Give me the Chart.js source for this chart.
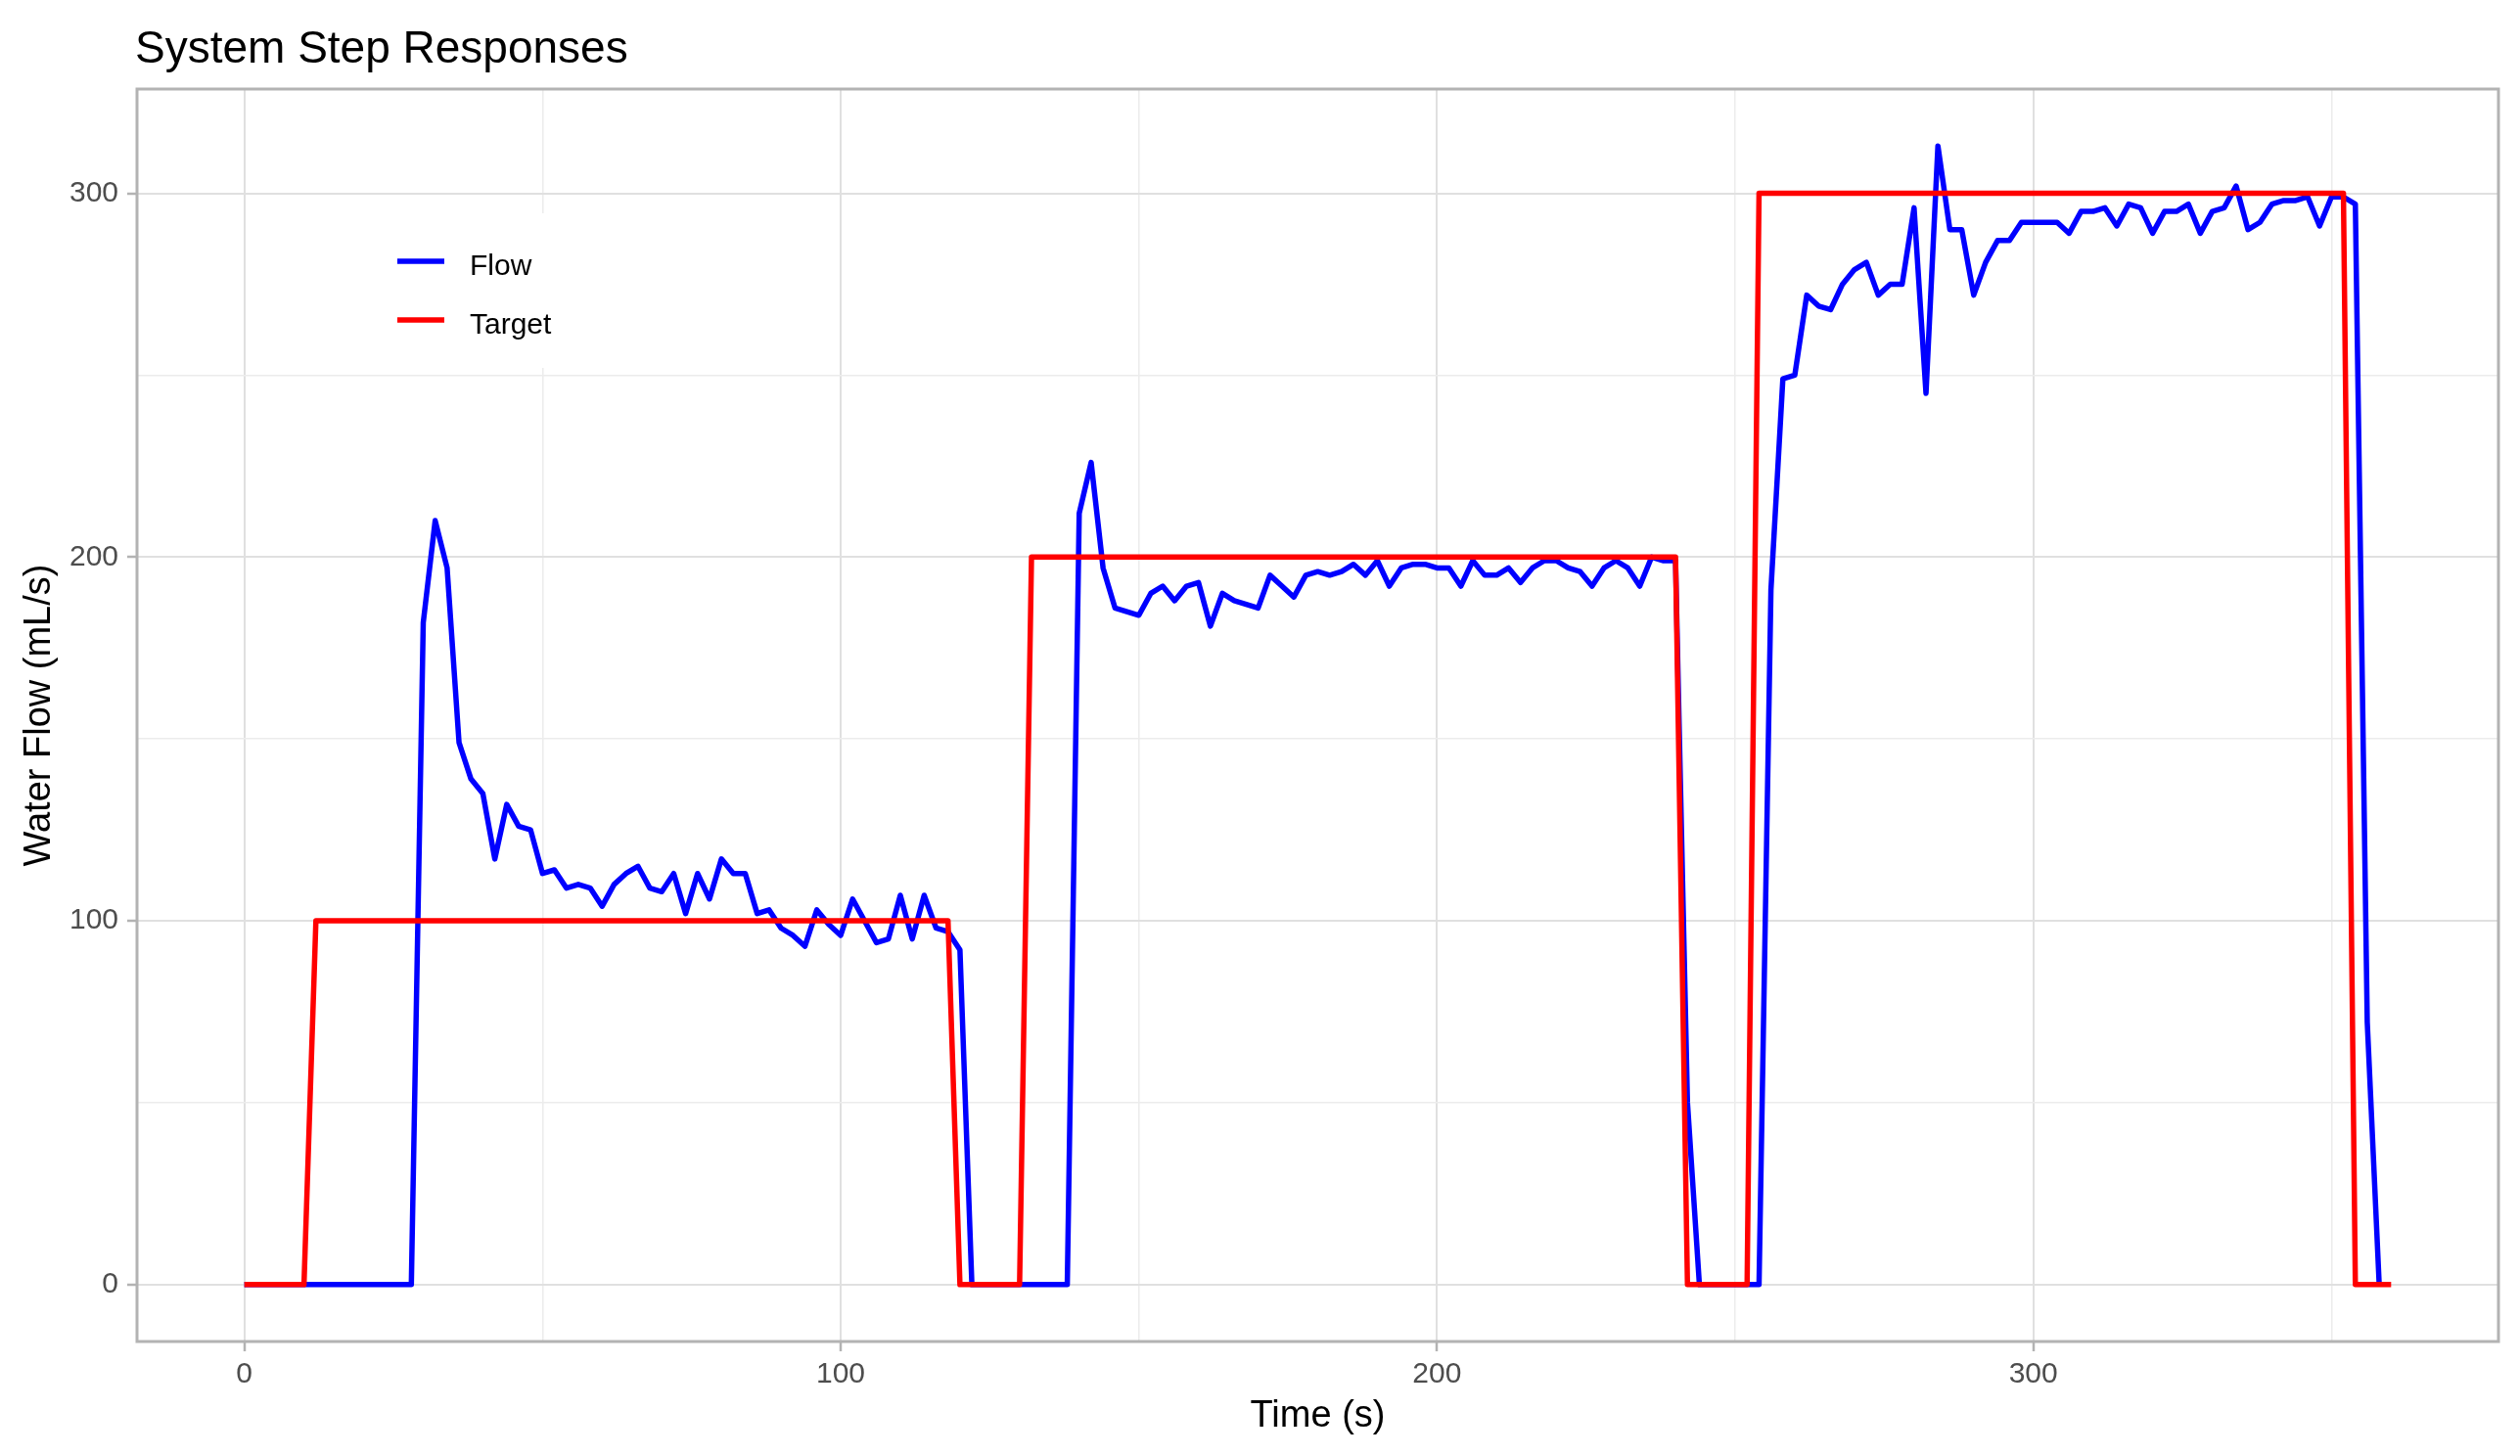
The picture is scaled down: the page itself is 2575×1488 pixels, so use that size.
<!DOCTYPE html>
<html>
<head>
<meta charset="utf-8">
<title>System Step Responses</title>
<script src="https://cdn.jsdelivr.net/npm/chart.js@4.4.1/dist/chart.umd.min.js"></script>
<style>
  html, body { margin: 0; padding: 0; background: #fff; }
  #wrap { width: 2575px; height: 1488px; }
</style>
</head>
<body>
<div id="wrap"><canvas id="chart" width="2575" height="1488"></canvas></div>
<script>
// sample times (s)
const time = [
  0, 2, 4, 6, 8, 10, 12, 14, 16, 18,
  20, 22, 24, 26, 28, 30, 32, 34, 36, 38,
  40, 42, 44, 46, 48, 50, 52, 54, 56, 58,
  60, 62, 64, 66, 68, 70, 72, 74, 76, 78,
  80, 82, 84, 86, 88, 90, 92, 94, 96, 98,
  100, 102, 104, 106, 108, 110, 112, 114, 116, 118,
  120, 122, 124, 126, 128, 130, 132, 134, 136, 138,
  140, 142, 144, 146, 148, 150, 152, 154, 156, 158,
  160, 162, 164, 166, 168, 170, 172, 174, 176, 178,
  180, 182, 184, 186, 188, 190, 192, 194, 196, 198,
  200, 202, 204, 206, 208, 210, 212, 214, 216, 218,
  220, 222, 224, 226, 228, 230, 232, 234, 236, 238,
  240, 242, 244, 246, 248, 250, 252, 254, 256, 258,
  260, 262, 264, 266, 268, 270, 272, 274, 276, 278,
  280, 282, 284, 286, 288, 290, 292, 294, 296, 298,
  300, 302, 304, 306, 308, 310, 312, 314, 316, 318,
  320, 322, 324, 326, 328, 330, 332, 334, 336, 338,
  340, 342, 344, 346, 348, 350, 352, 354, 356, 358,
  360
];

// measured water flow (mL/s)
const flow = [
  0, 0, 0, 0, 0, 0, 0, 0, 0, 0,
  0, 0, 0, 0, 0, 182, 210, 197, 149, 139,
  135, 117, 132, 126, 125, 113, 114, 109, 110, 109,
  104, 110, 113, 115, 109, 108, 113, 102, 113, 106,
  117, 113, 113, 102, 103, 98, 96, 93, 103, 99,
  96, 106, 100, 94, 95, 107, 95, 107, 98, 97,
  92, 0, 0, 0, 0, 0, 0, 0, 0, 0,
  212, 226, 197, 186, 185, 184, 190, 192, 188, 192,
  193, 181, 190, 188, 187, 186, 195, 192, 189, 195,
  196, 195, 196, 198, 195, 199, 192, 197, 198, 198,
  197, 197, 192, 199, 195, 195, 197, 193, 197, 199,
  199, 197, 196, 192, 197, 199, 197, 192, 200, 199,
  199, 50, 0, 0, 0, 0, 0, 0, 191, 249,
  250, 272, 269, 268, 275, 279, 281, 272, 275, 275,
  296, 245, 313, 290, 290, 272, 281, 287, 287, 292,
  292, 292, 292, 289, 295, 295, 296, 291, 297, 296,
  289, 295, 295, 297, 289, 295, 296, 302, 290, 292,
  297, 298, 298, 299, 291, 299, 299, 297, 72, 0,
  null
];

// setpoint (mL/s)
const target = [
  0, 0, 0, 0, 0, 0, 100, 100, 100, 100,
  100, 100, 100, 100, 100, 100, 100, 100, 100, 100,
  100, 100, 100, 100, 100, 100, 100, 100, 100, 100,
  100, 100, 100, 100, 100, 100, 100, 100, 100, 100,
  100, 100, 100, 100, 100, 100, 100, 100, 100, 100,
  100, 100, 100, 100, 100, 100, 100, 100, 100, 100,
  0, 0, 0, 0, 0, 0, 200, 200, 200, 200,
  200, 200, 200, 200, 200, 200, 200, 200, 200, 200,
  200, 200, 200, 200, 200, 200, 200, 200, 200, 200,
  200, 200, 200, 200, 200, 200, 200, 200, 200, 200,
  200, 200, 200, 200, 200, 200, 200, 200, 200, 200,
  200, 200, 200, 200, 200, 200, 200, 200, 200, 200,
  200, 0, 0, 0, 0, 0, 0, 300, 300, 300,
  300, 300, 300, 300, 300, 300, 300, 300, 300, 300,
  300, 300, 300, 300, 300, 300, 300, 300, 300, 300,
  300, 300, 300, 300, 300, 300, 300, 300, 300, 300,
  300, 300, 300, 300, 300, 300, 300, 300, 300, 300,
  300, 300, 300, 300, 300, 300, 300, 0, 0, 0,
  0
];

// axis grid (major + minor) and labelled ticks
const xGrid = [0, 50, 100, 150, 200, 250, 300, 350];
const xLabels = [0, 100, 200, 300];
const yGrid = [0, 50, 100, 150, 200, 250, 300];
const yLabels = [0, 100, 200, 300];

const FONT = "'Liberation Sans', Arial, sans-serif";
const LINE_W = 5.5;
const isMajor = (c, labels) => !!c.tick && labels.includes(c.tick.value);

// ggplot-like panel border, title and inside legend
const panelDecor = {
  id: "panelDecor",
  afterDraw(chart) {
    const { ctx, chartArea: a } = chart;
    ctx.save();
    ctx.strokeStyle = "#b3b3b3";
    ctx.lineWidth = 3;
    ctx.strokeRect(a.left, a.top, a.right - a.left, a.bottom - a.top);

    ctx.fillStyle = "#000";
    ctx.font = "46px " + FONT;
    ctx.textAlign = "left";
    ctx.textBaseline = "alphabetic";
    ctx.fillText("System Step Responses", 138, 64);

    // legend box
    ctx.fillStyle = "#fff";
    ctx.fillRect(381, 218, 204, 158);
    const items = [
      { label: "Flow", color: "#0000ff", y: 267 },
      { label: "Target", color: "#ff0000", y: 327 },
    ];
    ctx.font = "30px " + FONT;
    items.forEach((it) => {
      ctx.strokeStyle = it.color;
      ctx.lineWidth = LINE_W;
      ctx.beginPath();
      ctx.moveTo(406, it.y);
      ctx.lineTo(454, it.y);
      ctx.stroke();
      ctx.fillStyle = "#000";
      ctx.fillText(it.label, 480, it.y + 14);
    });
    ctx.restore();
  },
};

const ctx = document.getElementById("chart").getContext("2d");
new Chart(ctx, {
  type: "line",
  data: {
    datasets: [
      {
        label: "Target",
        data: time.map((t, i) => ({ x: t, y: target[i] })),
        borderColor: "#ff0000",
        borderWidth: LINE_W,
        order: 0,
      },
      {
        label: "Flow",
        data: time.map((t, i) => ({ x: t, y: flow[i] })),
        borderColor: "#0000ff",
        borderWidth: LINE_W,
        order: 1,
      },
    ],
  },
  options: {
    responsive: false,
    animation: false,
    devicePixelRatio: 1,
    layout: { padding: { top: 91, right: 22, left: 0, bottom: 0 } },
    elements: {
      point: { radius: 0 },
      line: { tension: 0, borderJoinStyle: "round", borderCapStyle: "butt", fill: false },
    },
    plugins: {
      legend: { display: false },
      title: { display: false },
      tooltip: { enabled: false },
    },
    scales: {
      x: {
        type: "linear",
        min: -18,
        max: 378,
        afterBuildTicks: (s) => { s.ticks = xGrid.map((v) => ({ value: v })); },
        afterFit: (s) => { s.height = 117; },
        ticks: {
          autoSkip: false,
          maxRotation: 0,
          padding: 6,
          color: "#4d4d4d",
          font: { family: FONT, size: 30 },
          callback: (v) => (xLabels.includes(v) ? String(v) : ""),
        },
        grid: {
          color: (c) => (isMajor(c, xLabels) ? "#e0e0e0" : "#ececec"),
          lineWidth: (c) => (isMajor(c, xLabels) ? 2 : 1.5),
          tickColor: (c) => (isMajor(c, xLabels) ? "#b3b3b3" : "rgba(0,0,0,0)"),
          tickLength: 10,
          tickWidth: 2.5,
        },
        border: { display: false },
        title: {
          display: true,
          text: "Time (s)",
          color: "#000",
          font: { family: FONT, size: 38 },
          padding: { bottom: 18, top: 0 },
        },
      },
      y: {
        type: "linear",
        min: -15.65,
        max: 328.65,
        afterBuildTicks: (s) => { s.ticks = yGrid.map((v) => ({ value: v })); },
        afterFit: (s) => { s.width = 140; },
        ticks: {
          padding: 9,
          color: "#4d4d4d",
          font: { family: FONT, size: 30 },
          callback: (v) => (yLabels.includes(v) ? String(v) : ""),
        },
        grid: {
          color: (c) => (isMajor(c, yLabels) ? "#e0e0e0" : "#ececec"),
          lineWidth: (c) => (isMajor(c, yLabels) ? 2 : 1.5),
          tickColor: (c) => (isMajor(c, yLabels) ? "#b3b3b3" : "rgba(0,0,0,0)"),
          tickLength: 10,
          tickWidth: 2.5,
        },
        border: { display: false },
        title: {
          display: true,
          text: "Water Flow (mL/s)",
          color: "#000",
          font: { family: FONT, size: 38 },
          padding: { top: 18, bottom: 0 },
        },
      },
    },
  },
  plugins: [panelDecor],
});
</script>
</body>
</html>
